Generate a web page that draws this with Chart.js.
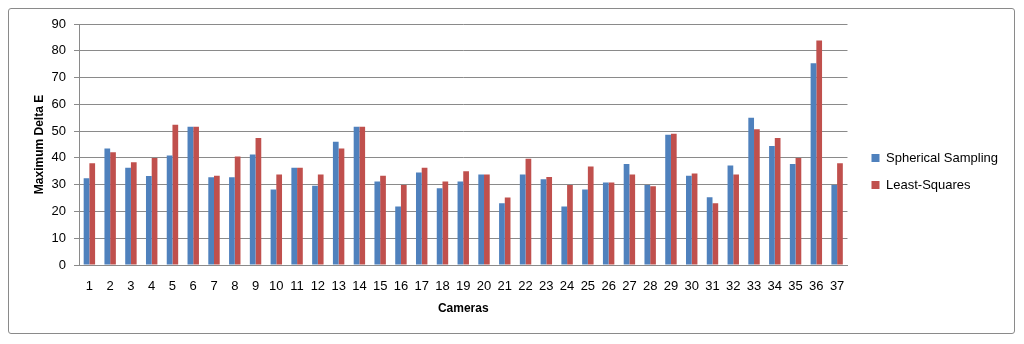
<!DOCTYPE html>
<html>
<head>
<meta charset="utf-8">
<script src="https://cdn.jsdelivr.net/npm/chart.js@4"></script>
<style>
  html, body { margin: 0; padding: 0; background: #fff; }
  #wrap { position: relative; width: 1024px; height: 344px; }
  #frame {
    position: absolute; left: 8px; top: 8px; width: 1007px; height: 326px;
    border: 1px solid #8a8a8a; border-radius: 3px; box-sizing: border-box;
  }
  canvas { position: absolute; left: 0; top: 0; }
</style>
</head>
<body>
<div id="wrap">
  <div id="frame"></div>
  <canvas id="chart" width="1024" height="344"></canvas>
</div>
<script>
// camera numbers 1..37
const cameras = ['1','2','3','4','5','6','7','8','9','10','11','12','13','14','15','16','17','18','19',
                 '20','21','22','23','24','25','26','27','28','29','30','31','32','33','34','35','36','37'];

const spherical = [32.4, 43.5, 36.3, 33.2, 40.9, 51.6, 32.8, 32.8, 41.3, 28.2,
                   36.3, 29.6, 46.0, 51.6, 31.2, 21.8, 34.5, 28.7, 31.2, 33.8,
                   23.1, 33.8, 32.0, 21.8, 28.2, 30.8, 37.7, 29.9, 48.6, 33.3,
                   25.3, 37.2, 55.0, 44.4, 37.7, 75.3, 29.9];
const leastSquares = [38.0, 42.1, 38.4, 40.0, 52.4, 51.6, 33.3, 40.5, 47.4, 33.8,
                      36.3, 33.8, 43.5, 51.6, 33.3, 29.9, 36.3, 31.2, 35.0, 33.8,
                      25.2, 39.7, 32.9, 29.9, 36.8, 30.8, 33.8, 29.4, 49.0, 34.2,
                      23.1, 33.8, 50.7, 47.4, 40.0, 83.8, 38.0];

const yMin = 0, yMax = 90, yStep = 10;

Chart.defaults.font.family = '"Liberation Sans", Arial, sans-serif';
Chart.defaults.color = '#000';

const gridColor = '#8a8a8a';

new Chart(document.getElementById('chart').getContext('2d'), {
    type: 'bar',
    data: {
        labels: cameras,
        datasets: [
            { label: 'Spherical Sampling', data: spherical, backgroundColor: '#4f81bd' },
            { label: 'Least-Squares', data: leastSquares, backgroundColor: '#c0504d' }
        ]
    },
    options: {
        responsive: false,
        animation: false,
        categoryPercentage: 0.55,
        barPercentage: 1.0,
        layout: { padding: { left: 28, top: 24, bottom: 25, right: 16 } },
        plugins: {
            legend: {
                position: 'right',
                labels: {
                    boxWidth: 8,
                    boxHeight: 8,
                    padding: 14,
                    font: { size: 13 }
                }
            },
            tooltip: { enabled: false }
        },
        scales: {
            x: {
                grid: { display: false, drawTicks: false },
                border: { display: true, color: gridColor },
                ticks: { font: { size: 13 }, padding: 14, maxRotation: 0, autoSkip: false },
                title: { display: true, text: 'Cameras', font: { size: 12, weight: 'bold' }, padding: { top: 4, bottom: 3 } },
                afterFit(scale) { scale.height = 54; }
            },
            y: {
                min: yMin,
                max: yMax,
                ticks: { stepSize: yStep, font: { size: 13 }, padding: 8 },
                grid: { color: gridColor, tickLength: 5 },
                border: { display: true, color: gridColor },
                title: { display: true, text: 'Maximum Delta E', font: { size: 12, weight: 'bold' }, padding: { top: 4, bottom: 4 } },
                afterFit(scale) { scale.width = 51; }
            },
            // empty spacer between plot and legend
            gap: {
                type: 'linear',
                position: 'right',
                display: true,
                grid: { display: false },
                border: { display: false },
                ticks: { display: false },
                afterFit(scale) { scale.width = 10; }
            }
        }
    }
});
</script>
</body>
</html>
